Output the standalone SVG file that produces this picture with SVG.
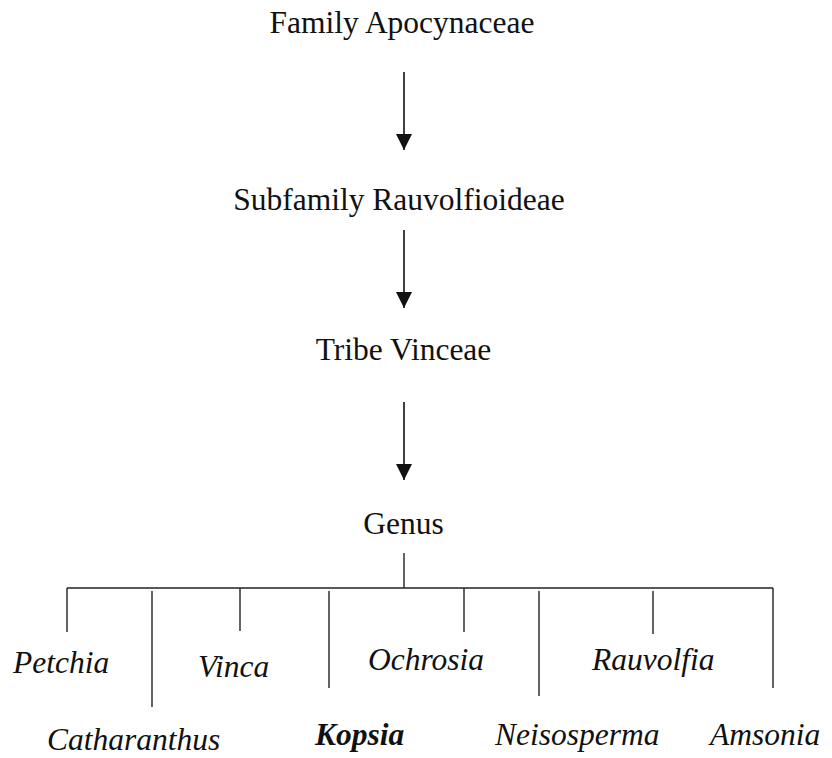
<svg xmlns="http://www.w3.org/2000/svg" width="832" height="758" viewBox="0 0 832 758">
<style>
.t{font-family:"Liberation Serif","Times New Roman",serif;font-size:31.5px;fill:#111}
.m{text-anchor:middle}
.i{font-style:italic}
.b{font-weight:bold}
.ln{stroke:#222;stroke-width:1.4;fill:none}
.ar{stroke:#111;stroke-width:1.6;fill:none}
</style>
<defs>
<marker id="ah" markerUnits="userSpaceOnUse" markerWidth="16" markerHeight="16" refX="16" refY="8" orient="auto" viewBox="0 0 16 16">
<path d="M0,0 L16,8 L0,16 z" fill="#111"/>
</marker>
</defs>
<rect width="832" height="758" fill="#fff"/>
<g id="connectors">
<line class="ar" x1="404" y1="72" x2="404" y2="150" marker-end="url(#ah)"/>
<line class="ar" x1="404" y1="230" x2="404" y2="308" marker-end="url(#ah)"/>
<line class="ar" x1="404" y1="402" x2="404" y2="480" marker-end="url(#ah)"/>
<line class="ln" x1="404" y1="553" x2="404" y2="588"/>
<line class="ln" x1="67" y1="588" x2="773" y2="588"/>
<line class="ln" x1="67" y1="588" x2="67" y2="632"/>
<line class="ln" x1="152" y1="591" x2="152" y2="707"/>
<line class="ln" x1="240" y1="588" x2="240" y2="631"/>
<line class="ln" x1="329" y1="591" x2="329" y2="688"/>
<line class="ln" x1="464" y1="588" x2="464" y2="632"/>
<line class="ln" x1="539" y1="591" x2="539" y2="696"/>
<line class="ln" x1="653" y1="591" x2="653" y2="634"/>
<line class="ln" x1="773" y1="588" x2="773" y2="688"/>
</g>
<g id="family"><text class="t m" x="402" y="33">Family Apocynaceae</text></g>
<g id="subfamily"><text class="t m" x="399" y="210">Subfamily Rauvolfioideae</text></g>
<g id="tribe"><text class="t m" x="403.5" y="360">Tribe Vinceae</text></g>
<g id="genus"><text class="t m" x="403.5" y="534">Genus</text></g>
<g id="petchia"><text class="t i" x="13" y="673">Petchia</text></g>
<g id="catharanthus"><text class="t i" x="47" y="750">Catharanthus</text></g>
<g id="vinca"><text class="t i" x="198" y="677">Vinca</text></g>
<g id="kopsia"><text class="t i b" x="315" y="745">Kopsia</text></g>
<g id="ochrosia"><text class="t i" x="368" y="670">Ochrosia</text></g>
<g id="neisosperma"><text class="t i" x="495" y="745">Neisosperma</text></g>
<g id="rauvolfia"><text class="t i" x="592" y="670">Rauvolfia</text></g>
<g id="amsonia"><text class="t i" x="710" y="745">Amsonia</text></g>
</svg>
